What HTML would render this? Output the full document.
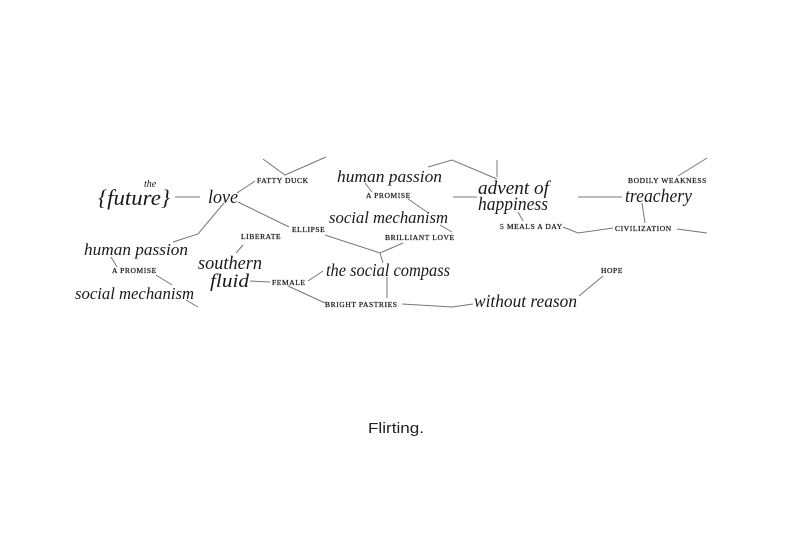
<!DOCTYPE html>
<html><head><meta charset="utf-8"><style>
html,body{margin:0;padding:0;background:#fff;}
svg{display:block}
.i{font-family:"Liberation Serif",serif;font-style:italic;fill:#1a1a1a}
.s{font-family:"Liberation Serif",serif;font-size:7.5px;letter-spacing:0.6px;fill:#1a1a1a;stroke:#1a1a1a;stroke-width:0.25}
line,polyline{stroke:#777;stroke-width:1;fill:none}
</style></head><body>
<svg width="792" height="540" viewBox="0 0 792 540" xmlns="http://www.w3.org/2000/svg">
<line x1="175" y1="197" x2="200" y2="197"/>
<line x1="237" y1="193" x2="255" y2="181"/>
<polyline points="263,159 285,175 326,157"/>
<line x1="238" y1="202" x2="289" y2="227"/>
<polyline points="224,203 198,234 173,242"/>
<line x1="111" y1="257" x2="117" y2="267"/>
<line x1="156" y1="275" x2="172" y2="285"/>
<line x1="186" y1="300" x2="198" y2="307"/>
<line x1="243" y1="245" x2="236" y2="253"/>
<line x1="250" y1="281" x2="270" y2="282"/>
<line x1="308" y1="281" x2="323" y2="271"/>
<line x1="288" y1="286" x2="325" y2="303"/>
<polyline points="325,235 380,253 403,243"/>
<line x1="380" y1="253" x2="383" y2="263"/>
<line x1="387" y1="277" x2="387" y2="298"/>
<polyline points="402,304 452,307 473,304"/>
<line x1="579" y1="296" x2="603" y2="276"/>
<polyline points="428,167 452,160 497,179"/>
<line x1="497" y1="160" x2="497" y2="177"/>
<line x1="365" y1="183" x2="372" y2="192"/>
<line x1="408" y1="199" x2="427" y2="212"/>
<line x1="440" y1="225" x2="452" y2="232"/>
<line x1="453" y1="197" x2="477" y2="197"/>
<line x1="518" y1="212" x2="523" y2="221"/>
<polyline points="563,227 578,233 613,228"/>
<line x1="677" y1="229" x2="707" y2="233"/>
<line x1="578" y1="197" x2="622" y2="197"/>
<line x1="642" y1="203" x2="645" y2="223"/>
<line x1="678" y1="176" x2="707" y2="158"/>

<text class="i" x="144" y="187" font-size="10">the</text>
<text class="i" x="98" y="205" font-size="22" textLength="72" lengthAdjust="spacingAndGlyphs">{future}</text>
<text class="i" x="208" y="203" font-size="19" textLength="30" lengthAdjust="spacingAndGlyphs">love</text>
<text class="s" x="257" y="183">FATTY DUCK</text>
<text class="i" x="84" y="255" font-size="17" textLength="104" lengthAdjust="spacingAndGlyphs">human passion</text>
<text class="s" x="112" y="273">A PROMISE</text>
<text class="i" x="75" y="299" font-size="17" textLength="119" lengthAdjust="spacingAndGlyphs">social mechanism</text>
<text class="s" x="241" y="239">LIBERATE</text>
<text class="i" x="198" y="269" font-size="19" textLength="64" lengthAdjust="spacingAndGlyphs">southern</text>
<text class="i" x="210" y="287" font-size="19" textLength="39" lengthAdjust="spacingAndGlyphs">fluid</text>
<text class="s" x="272" y="285">FEMALE</text>
<text class="s" x="292" y="232">ELLIPSE</text>
<text class="i" x="326" y="276" font-size="18" textLength="124" lengthAdjust="spacingAndGlyphs">the social compass</text>
<text class="s" x="325" y="307">BRIGHT PASTRIES</text>
<text class="i" x="337" y="182" font-size="17" textLength="105" lengthAdjust="spacingAndGlyphs">human passion</text>
<text class="s" x="366" y="198">A PROMISE</text>
<text class="i" x="329" y="223" font-size="17" textLength="119" lengthAdjust="spacingAndGlyphs">social mechanism</text>
<text class="s" x="385" y="240">BRILLIANT LOVE</text>
<text class="i" x="478" y="194" font-size="19" textLength="71" lengthAdjust="spacingAndGlyphs">advent of</text>
<text class="i" x="478" y="210" font-size="19" textLength="70" lengthAdjust="spacingAndGlyphs">happiness</text>
<text class="s" x="500" y="229">5 MEALS A DAY</text>
<text class="i" x="625" y="202" font-size="19" textLength="67" lengthAdjust="spacingAndGlyphs">treachery</text>
<text class="s" x="628" y="183">BODILY WEAKNESS</text>
<text class="s" x="615" y="231">CIVILIZATION</text>
<text class="s" x="601" y="273">HOPE</text>
<text class="i" x="474" y="307" font-size="18" textLength="103" lengthAdjust="spacingAndGlyphs">without reason</text>
<text x="396" y="433" text-anchor="middle" font-family="Liberation Sans, sans-serif" font-size="14.5" fill="#222" textLength="56" lengthAdjust="spacingAndGlyphs">Flirting.</text>
</svg>
</body></html>
